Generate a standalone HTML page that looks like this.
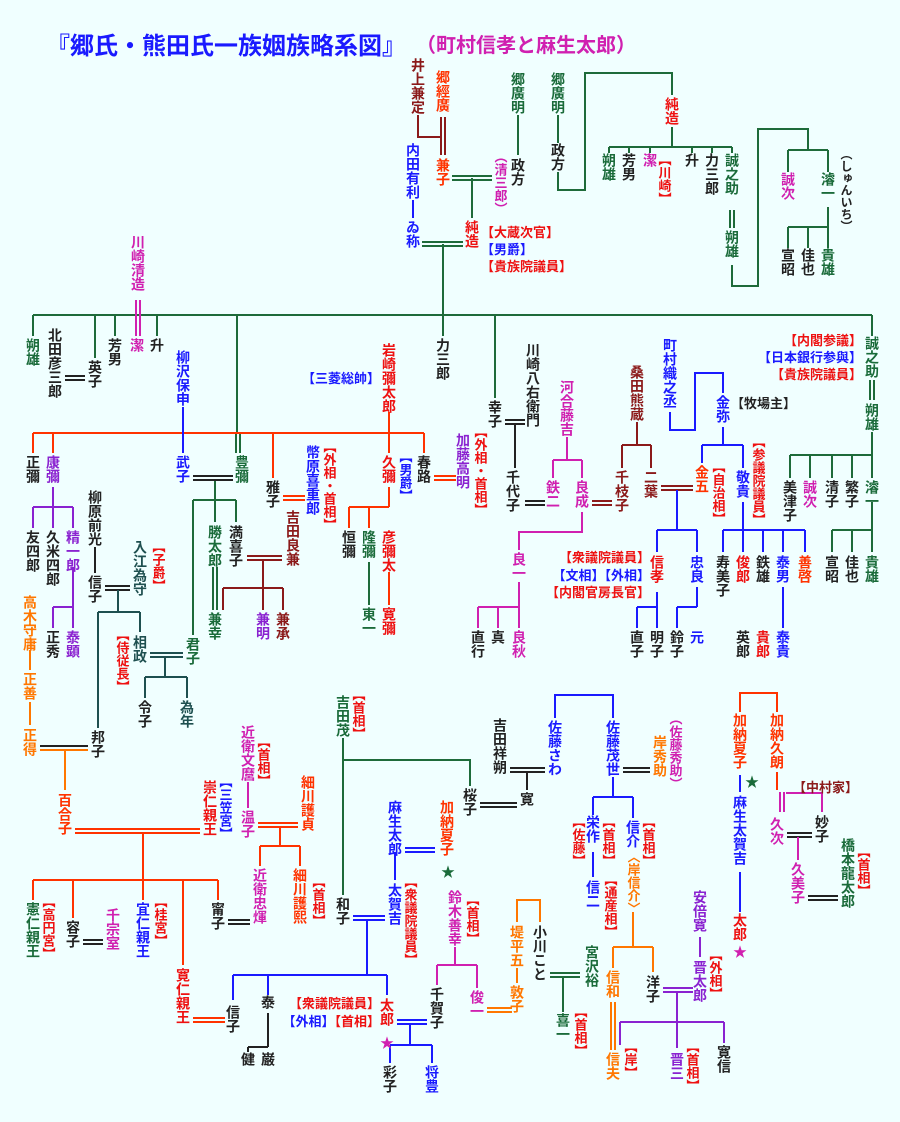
<!DOCTYPE html>
<html><head><meta charset="utf-8"><style>
html,body{margin:0;padding:0;background:#f0ffff;}
svg{display:block;}
text{font-family:"Liberation Sans","Noto Sans CJK JP",sans-serif;font-weight:bold;font-size:14px;}
.v{writing-mode:vertical-rl;}
.s{font-size:13px;}
.xs{font-size:12px;}
.k{fill:#222}.g{fill:#1a6b3a}.r{fill:#ee1111}.dr{fill:#8b1a1a}.o{fill:#ff7700}.or{fill:#ff3300}.m{fill:#d020b0}.p{fill:#8a22d0}.b{fill:#1a1aff}.t{fill:#1e5050}
path{fill:none;stroke-width:2;}
</style></head><body>
<svg width="900" height="1122" viewBox="0 0 900 1122" xmlns="http://www.w3.org/2000/svg">
<rect width="900" height="1122" fill="#f0ffff"/>
<text x="46" y="54" style="font-size:24px" class="b">『郷氏・熊田氏一族姻族略系図』</text>
<text x="416" y="52" style="font-size:20px" class="m">（町村信孝と麻生太郎）</text>

<!-- green lines -->
<path stroke="#1e6b3a" d="M33 315H872M33 315V336M95 315V358M115 315V336M157 315V336M237 315V433M443 244V336M495 315V398M872 315V336
M518 115V155M558 115V143M558 172V190H585V73H672V95M672 127V147M609 147H732M609 147V153M629 147V153M650 147V153M692 147V153M712 147V153M732 147V153
M732 265V286H758V129H808V150M788 150H828M788 150V172M828 150V172M828 207V227M788 227H828M788 227V248M808 227V248M828 227V248
M730 210V228M734 210V228M422 242H463M422 246H463M452 176H492M452 180H492M472 178V218
M343 738V895M343 760H470V786M550 973H580M550 977H580M563 977V1012
M870 380V400M874 380V400M872 432V478M790 455H872M790 455V478M810 455V478M832 455V478M852 455V478M872 502V552M832 530H872M832 530V552M852 530V552
M236 433V453M240 433V453M215 480V522M193 500H236M193 500V635M236 500V522M213 567V610M217 567V610M369 562V605"/>
<path stroke="#222" d="M193 476H233M193 480H233M505 420H525M505 424H525M515 424V468M525 501H545M525 505H545M510 768H545M510 772H545M527 772V790M480 803H517M480 807H517M83 940H103M83 944H103M228 920H250M228 924H250M65 376H85M65 380H85M95 547V573M105 586H130M105 590H130M808 896H838M808 900H838M787 833H812M787 837H812M268 1013V1047M248 1047H268M248 1047V1052M40 746H88M623 768H650M623 772H650"/>
<path stroke="#1e5050" d="M118 590V612M98 612H140M98 612V728M140 612V632M150 653H183M150 657H183M165 657V677M145 677H187M145 677V698M187 677V698"/>
<path stroke="#8b1a1a" d="M418 115V137H441M441 117V155M445 117V155M637 422V445M622 445H651M622 445V468M651 445V468M263 560V588M223 588H283M223 588V610M263 588V610M283 588V610M247 556H282M247 560H282M592 501H612M592 505H612M661 486H693M661 490H693"/>
<path stroke="#ff3300" d="M33 433H424M33 433V453M53 433V453M273 433V478M424 433V453M389 412V453M389 487V507M349 507H389M349 507V528M369 507V528M389 572V605M283 496H305M283 500H305M434 476H456M434 480H456
M75 829H200M75 833H200M143 833V880M33 880H218M33 880V900M73 880V918M143 880V900M183 880V965M218 880V900M193 1018H225M193 1022H225M258 823H298M258 827H298M280 827V846M260 846H300M260 846V866M300 846V866M740 712V693H777V712M777 772V790"/>
<path stroke="#ff7700" d="M30 650V670M30 702V725M40 750H88M65 750V790M517 922V900H540V922M517 968V983M487 1008H512M487 1012H512M633 912V947M613 947H653M613 947V968M653 947V972M611 1002V1050M615 1002V1050"/>
<path stroke="#1a1aff" d="M183 407V453M413 200V218M670 412V430H695V373H723V393M723 427V445M702 445H743M702 445V463M743 445V468M677 490V530M657 530H697M657 530V552M697 530V552M657 592V607M637 607H657M637 607V628M657 607V628M697 587V607M677 607H697M677 607V628M743 502V530M723 530H805M723 530V552M743 530V552M763 530V552M783 530V552M805 530V552M783 587V628
M555 718V695H613V718M613 777V797M593 797H633M593 797V815M633 797V818M593 852V877M395 852V880M353 916H385M353 920H385M367 920V975M233 975H387M233 975V1000M268 975V995M387 975V995M740 775V792M740 872V912M397 1020H427M397 1024H427M410 1024V1045M390 1045H432M390 1045V1063M432 1045V1063M405 848H435M405 852H435"/>
<path stroke="#d020b0" d="M136 300V336M140 300V336M567 437V460M553 460H582M553 460V478M582 460V478M582 512V532H519V550M519 582V607M478 607H519M478 607V628M498 607V628M519 607V628M248 782V808M455 947V965M437 965H477M437 965V985M477 965V988M780 792V812M784 792V812M786 793H822V812M798 837V860"/>
<path stroke="#8a22d0" d="M53 487V507M33 507H73M33 507V528M53 507V528M73 507V528M73 567V607M53 607H73M53 607V628M73 607V628M700 937V957M663 988H693M663 992H693M677 992V1048M620 1022H724M620 1022V1045M724 1022V1043"/>

<!-- top -->
<text class="v dr" x="418" y="58">井上兼定</text>
<text class="v or" x="443" y="70">郷經廣</text>
<text class="v b" x="413" y="143">内田有利</text>
<text class="v b" x="413" y="220">ゐ称</text>
<text class="v or" x="443" y="158">兼子</text>
<text class="v m s" x="500" y="150">（清三郎）</text>
<text class="v g" x="518" y="72">郷廣明</text>
<text class="v k" x="518" y="158">政方</text>
<text class="v g" x="558" y="72">郷廣明</text>
<text class="v k" x="558" y="143">政方</text>
<text class="v r" x="672" y="97">純造</text>
<text class="v g" x="609" y="153">朔雄</text>
<text class="v k" x="629" y="153">芳男</text>
<text class="v m" x="650" y="153">潔</text>
<text class="v r s" x="664" y="153">【川崎】</text>
<text class="v k" x="692" y="153">升</text>
<text class="v k" x="712" y="153">力三郎</text>
<text class="v g" x="732" y="153">誠之助</text>
<text class="v g" x="732" y="230">朔雄</text>
<text class="v m" x="788" y="172">誠次</text>
<text class="v g" x="828" y="172">濬一</text>
<text class="v k xs" x="846" y="148">（しゅんいち）</text>
<text class="v k" x="788" y="248">宣昭</text>
<text class="v k" x="808" y="248">佳也</text>
<text class="v g" x="828" y="248">貴雄</text>
<text class="v r" x="472" y="220">純造</text>
<text class="r s" x="481" y="237">【大蔵次官】</text>
<text class="b s" x="481" y="254">【男爵】</text>
<text class="r s" x="481" y="271">【貴族院議員】</text>
<text class="v m" x="138" y="235">川崎清造</text>

<!-- row 1 -->
<text class="v g" x="33" y="338">朔雄</text>
<text class="v k" x="55" y="328">北田彦三郎</text>
<text class="v k" x="95" y="360">英子</text>
<text class="v k" x="115" y="338">芳男</text>
<text class="v m" x="137" y="338">潔</text>
<text class="v k" x="157" y="338">升</text>
<text class="v k" x="443" y="338">力三郎</text>
<text class="v k" x="495" y="400">幸子</text>
<text class="v k" x="533" y="343">川崎八右衛門</text>
<text class="v p" x="463" y="433">加藤高明</text>
<text class="v r s" x="480" y="425">【外相・首相】</text>
<text class="v b" x="183" y="350">柳沢保申</text>
<text class="v r" x="389" y="343">岩崎彌太郎</text>
<text class="b s" x="380" y="383" text-anchor="end">【三菱総帥】</text>

<text class="v k" x="33" y="455">正彌</text>
<text class="v p" x="53" y="455">康彌</text>
<text class="v b" x="183" y="455">武子</text>
<text class="v g" x="242" y="455">豊彌</text>
<text class="v k" x="273" y="480">雅子</text>
<text class="v b" x="313" y="445">幣原喜重郎</text>
<text class="v r s" x="329" y="440">【外相・首相】</text>
<text class="v r" x="389" y="455">久彌</text>
<text class="v b s" x="405" y="450">【男爵】</text>
<text class="v k" x="424" y="455">春路</text>

<text class="v k" x="33" y="530">友四郎</text>
<text class="v k" x="53" y="530">久米四郎</text>
<text class="v p" x="73" y="530">精一郎</text>
<text class="v k" x="53" y="630">正秀</text>
<text class="v p" x="73" y="630">泰顕</text>
<text class="v k" x="95" y="490">柳原前光</text>
<text class="v k" x="95" y="575">信子</text>
<text class="v t" x="140" y="540">入江為守</text>
<text class="v r s" x="158" y="540">【子爵】</text>
<text class="v t" x="140" y="635">相政</text>
<text class="v r s" x="122" y="628">【侍従長】</text>
<text class="v g" x="193" y="637">君子</text>
<text class="v k" x="145" y="700">令子</text>
<text class="v t" x="187" y="700">為年</text>
<text class="v g" x="215" y="525">勝太郎</text>
<text class="v k" x="236" y="525">満喜子</text>
<text class="v dr" x="293" y="510">吉田良兼</text>
<text class="v g" x="215" y="612">兼幸</text>
<text class="v p" x="263" y="612">兼明</text>
<text class="v dr" x="283" y="612">兼承</text>
<text class="v k" x="349" y="530">恒彌</text>
<text class="v g" x="369" y="530">隆彌</text>
<text class="v r" x="389" y="530">彦彌太</text>
<text class="v g" x="369" y="607">東一</text>
<text class="v r" x="389" y="607">寛彌</text>

<text class="v k" x="513" y="470">千代子</text>
<text class="v m" x="567" y="380">河合藤吉</text>
<text class="v m" x="553" y="480">鉄二</text>
<text class="v m" x="582" y="480">良成</text>
<text class="v dr" x="622" y="470">千枝子</text>
<text class="v dr" x="637" y="365">桑田熊蔵</text>
<text class="v dr" x="651" y="470">二葉</text>
<text class="v or" x="702" y="465">金五</text>
<text class="v r s" x="718" y="460">【自治相】</text>
<text class="v b" x="670" y="338">町村織之丞</text>
<text class="v b" x="723" y="395">金弥</text>
<text class="k s" x="731" y="408">【牧場主】</text>
<text class="v b" x="743" y="470">敬貴</text>
<text class="v r s" x="758" y="435">【参議院議員】</text>
<text class="v m" x="519" y="552">良一</text>
<text class="v k" x="478" y="630">直行</text>
<text class="v k" x="498" y="630">真</text>
<text class="v m" x="519" y="630">良秋</text>
<text class="v r" x="657" y="555">信孝</text>
<text class="r s" x="650" y="562" text-anchor="end">【衆議院議員】</text>
<text class="b s" x="650" y="580" text-anchor="end">【文相】【外相】</text>
<text class="r s" x="650" y="597" text-anchor="end">【内閣官房長官】</text>
<text class="v b" x="697" y="555">忠良</text>
<text class="v k" x="637" y="630">直子</text>
<text class="v k" x="657" y="630">明子</text>
<text class="v k" x="677" y="630">鈴子</text>
<text class="v b" x="697" y="630">元</text>
<text class="v k" x="723" y="555">寿美子</text>
<text class="v r" x="743" y="555">俊郎</text>
<text class="v k" x="763" y="555">鉄雄</text>
<text class="v b" x="783" y="555">泰男</text>
<text class="v or" x="805" y="555">善啓</text>
<text class="v k" x="743" y="630">英郎</text>
<text class="v r" x="763" y="630">貴郎</text>
<text class="v b" x="783" y="630">泰貴</text>
<text class="r s" x="862" y="345" text-anchor="end">【内閣参議】</text>
<text class="b s" x="862" y="362" text-anchor="end">【日本銀行参與】</text>
<text class="r s" x="862" y="379" text-anchor="end">【貴族院議員】</text>
<text class="v g" x="872" y="336">誠之助</text>
<text class="v g" x="872" y="403">朔雄</text>
<text class="v k" x="790" y="480">美津子</text>
<text class="v m" x="810" y="480">誠次</text>
<text class="v k" x="832" y="480">清子</text>
<text class="v k" x="852" y="480">繁子</text>
<text class="v g" x="872" y="480">濬一</text>
<text class="v k" x="832" y="555">宣昭</text>
<text class="v k" x="852" y="555">佳也</text>
<text class="v g" x="872" y="555">貴雄</text>

<!-- lower -->
<text class="v o" x="30" y="595">高木守庸</text>
<text class="v o" x="30" y="672">正善</text>
<text class="v o" x="30" y="728">正得</text>
<text class="v k" x="98" y="730">邦子</text>
<text class="v or" x="65" y="793">百合子</text>
<text class="v r" x="210" y="780">崇仁親王</text>
<text class="v b s" x="225" y="775">【三笠宮】</text>
<text class="v m" x="248" y="725">近衛文麿</text>
<text class="v r s" x="263" y="735">【首相】</text>
<text class="v m" x="248" y="810">温子</text>
<text class="v or" x="308" y="775">細川護貞</text>
<text class="v m" x="260" y="868">近衛忠煇</text>
<text class="v or" x="300" y="868">細川護熙</text>
<text class="v r s" x="318" y="875">【首相】</text>
<text class="v g" x="33" y="902">憲仁親王</text>
<text class="v r s" x="48" y="895">【高円宮】</text>
<text class="v k" x="73" y="920">容子</text>
<text class="v m" x="113" y="908">千宗室</text>
<text class="v b" x="143" y="902">宜仁親王</text>
<text class="v r s" x="160" y="895">【桂宮】</text>
<text class="v k" x="218" y="902">甯子</text>
<text class="v r" x="183" y="968">寛仁親王</text>
<text class="v k" x="233" y="1005">信子</text>
<text class="v k" x="268" y="995">泰</text>
<text class="v k" x="248" y="1052">健</text>
<text class="v k" x="268" y="1052">巌</text>
<text class="v g" x="343" y="695">吉田茂</text>
<text class="v r s" x="358" y="688">【首相】</text>
<text class="v k" x="343" y="897">和子</text>
<text class="v b" x="395" y="800">麻生太郎</text>
<text class="v b" x="395" y="883">太賀吉</text>
<text class="v r s" x="410" y="875">【衆議院議員】</text>
<text class="v or" x="447" y="800">加納夏子</text>
<text class="g" x="448" y="877" text-anchor="middle">★</text>
<text class="v r" x="387" y="998">太郎</text>
<text class="m" x="387" y="1048" text-anchor="middle">★</text>
<text class="r s" x="380" y="1008" text-anchor="end">【衆議院議員】</text>
<text class="s" x="380" y="1026" text-anchor="end"><tspan class="b">【外相】</tspan><tspan class="r">【首相】</tspan></text>
<text class="v k" x="437" y="987">千賀子</text>
<text class="v k" x="390" y="1065">彩子</text>
<text class="v b" x="432" y="1065">将豊</text>
<text class="v m" x="455" y="890">鈴木善幸</text>
<text class="v r s" x="472" y="893">【首相】</text>
<text class="v m" x="477" y="990">俊一</text>
<text class="v k" x="470" y="788">桜子</text>
<text class="v k" x="500" y="718">吉田祥朔</text>
<text class="v b" x="555" y="720">佐藤さわ</text>
<text class="v k" x="527" y="792">寛</text>
<text class="v b" x="613" y="720">佐藤茂世</text>
<text class="v o" x="660" y="735">岸秀助</text>
<text class="v m s" x="675" y="712">（佐藤秀助）</text>
<text class="v r s" x="578" y="815">【佐藤】</text>
<text class="v b" x="593" y="815">栄作</text>
<text class="v r s" x="608" y="815">【首相】</text>
<text class="v b" x="593" y="880">信二</text>
<text class="v r s" x="610" y="873">【通産相】</text>
<text class="v b" x="633" y="820">信介</text>
<text class="v r s" x="648" y="815">【首相】</text>
<text class="v o s" x="633" y="850">〈岸信介〉</text>
<text class="v o" x="517" y="925">堤平五</text>
<text class="v k" x="540" y="925">小川こと</text>
<text class="v g" x="592" y="945">宮沢裕</text>
<text class="v o" x="517" y="985">敦子</text>
<text class="v g" x="563" y="1013">喜一</text>
<text class="v r s" x="580" y="1005">【首相】</text>
<text class="v o" x="613" y="970">信和</text>
<text class="v o" x="613" y="1052">信夫</text>
<text class="v r s" x="630" y="1040">【岸】</text>
<text class="v k" x="653" y="975">洋子</text>
<text class="v p" x="700" y="890">安倍寛</text>
<text class="v p" x="700" y="960">晋太郎</text>
<text class="v r s" x="715" y="948">【外相】</text>
<text class="v p" x="677" y="1052">晋三</text>
<text class="v r s" x="692" y="1040">【首相】</text>
<text class="v k" x="724" y="1045">寛信</text>
<text class="v or" x="740" y="713">加納夏子</text>
<text class="v or" x="777" y="713">加納久朗</text>
<text class="g" x="752" y="787" text-anchor="middle">★</text>
<text class="v b" x="740" y="795">麻生太賀吉</text>
<text class="v r" x="740" y="913">太郎</text>
<text class="m" x="740" y="957" text-anchor="middle">★</text>
<text class="dr s" x="793" y="792">【中村家】</text>
<text class="v m" x="777" y="817">久次</text>
<text class="v k" x="822" y="815">妙子</text>
<text class="v m" x="798" y="862">久美子</text>
<text class="v g" x="848" y="838">橋本龍太郎</text>
<text class="v r s" x="863" y="845">【首相】</text>
</svg>
</body></html>
